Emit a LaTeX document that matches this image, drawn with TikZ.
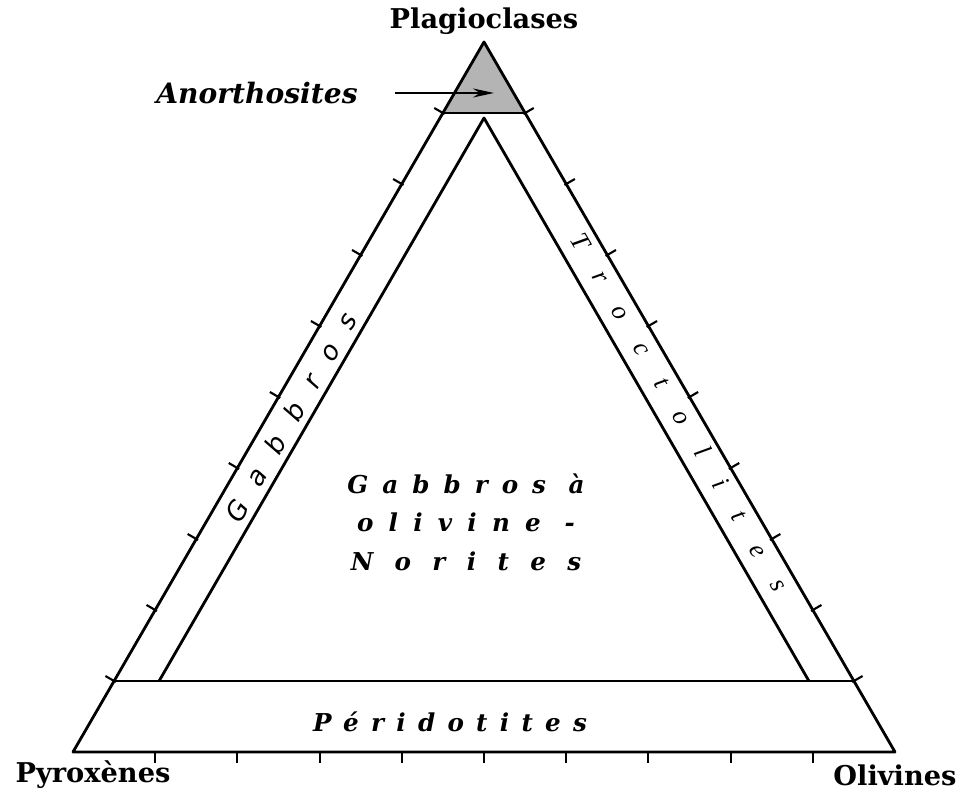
\documentclass[tikz,border=0pt]{standalone}
\usepackage{fontspec}
\usepackage{tikz}
\usetikzlibrary{arrows.meta,calc}
\setmainfont{DejaVu Serif}
\newfontfamily\spacedserif[LetterSpace=50]{DejaVu Serif}
\newfontfamily\gabfont[LetterSpace=80]{DejaVu Sans}
\newfontfamily\trocfont[LetterSpace=113]{Liberation Serif}
\definecolor{stipple}{HTML}{B4B4B4}

\begin{document}
\begin{tikzpicture}[
  x=0.02cm, y=0.02cm,
  edge/.style={line width=1.6pt, line join=round},
  tick/.style={line width=1.2pt},
  corner/.style={font=\fontsize{15.5}{18}\selectfont\bfseries},
  field/.style={font=\fontsize{14}{22}\selectfont\spacedserif\bfseries\itshape, align=center},
  arr/.style={-{Stealth[length=0.42cm, width=0.18cm]}, line width=1.4pt, shorten <=0.62cm}
]
\useasboundingbox (0,0) rectangle (967,794);
% corners of the diagram
\coordinate (pl) at (484,752);
\coordinate (px) at (73,42);
\coordinate (ol) at (895,42);
\coordinate (lb) at ($(px)!0.1!(pl)$);
\coordinate (rb) at ($(ol)!0.1!(pl)$);
\coordinate (lt) at ($(px)!0.9!(pl)$);
\coordinate (rt) at ($(ol)!0.9!(pl)$);
\coordinate (il) at ($(lb)+(45,0)$);
\coordinate (ir) at ($(rb)+(-45,0)$);
\coordinate (ia) at (484,676);
\coordinate (tip) at (494,701);

\fill[stipple] (pl) -- (lt) -- (rt) -- cycle;
\draw[edge] (px) -- (ol) -- (pl) -- cycle;
\draw[edge] (lb) -- (rb);
\draw[edge] (lt) -- (rt);
\draw[edge] (il) -- (ia) -- (ir);

% ticks every 10 %
\foreach \k in {1,...,9} {
  \draw[tick] ($(px)!\k/10!(ol)$) -- ++(0,-11);
  \draw[tick] ($(px)!\k/10!(pl)$) ++(-30:2) -- ++(150:12);
  \draw[tick] ($(ol)!\k/10!(pl)$) ++(210:2) -- ++(30:12);
}

\node[corner] (plag) at (484,773) {Plagioclases};
\node[corner] (pyro) at (93,19) {Pyroxènes};
\node[corner] (oliv) at (895,19) {Olivines};
\node[corner, font=\fontsize{16}{18}\selectfont\bfseries\itshape] (anor) at (257,701) {Anorthosites};
\draw[arr] (anor.east) -- (tip);

\node[font=\fontsize{15}{17}\selectfont\gabfont\itshape, rotate=60] (gab) at (291,377) {Gabbros};
\node[font=\fontsize{15}{17}\selectfont\trocfont\itshape, rotate=-60] (troc) at (680,382) {Troctolites};
\node[field] (gol) at (466,272) {\addfontfeature{LetterSpace=57}Gabbros à\\
  \addfontfeature{LetterSpace=62}olivine -\\
  \addfontfeature{LetterSpace=87}Norites};
\node[field] (peri) at (450,72) {Péridotites};
\end{tikzpicture}
\end{document}
